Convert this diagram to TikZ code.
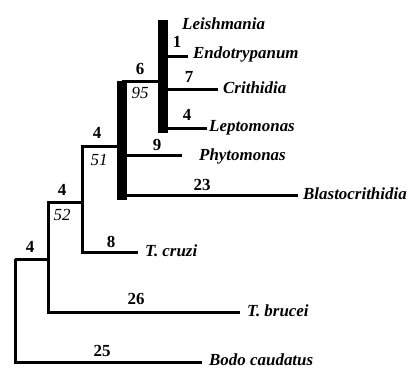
\documentclass[tikz,border=0pt]{standalone}
\usepackage{fontspec}
\setmainfont{Liberation Serif}
\tikzset{
  branch/.style={line width=3bp},
  clade/.style={line width=10bp},
  taxon/.style={anchor=base west,font=\fontsize{17}{19}\selectfont\bfseries\itshape,inner sep=0pt},
  steps/.style={anchor=base,font=\fontsize{17}{19}\selectfont\bfseries,inner sep=0pt},
  boot/.style={anchor=base,font=\fontsize{17}{19}\selectfont\itshape,inner sep=0pt}
}
\begin{document}
\begin{tikzpicture}[x=1bp,y=-1bp]
        \useasboundingbox (0,0) rectangle (415,369);
        % inner points of the tree
        \coordinate (root) at (15,259);
        \coordinate (nb) at (48,202);
        \coordinate (nc) at (82,146);
        \coordinate (nd) at (122,81);
        \coordinate (ne) at (163,20);
        % tips
        \coordinate (leish) at (163,20);
        \coordinate (endo) at (188,56);
        \coordinate (crith) at (218,89);
        \coordinate (lepto) at (207,128);
        \coordinate (phyto) at (182,155);
        \coordinate (blasto) at (298,195);
        \coordinate (cruzi) at (138,252);
        \coordinate (brucei) at (240,312);
        \coordinate (bodo) at (202,362);
        % thick clades
        \draw[clade] (ne) -- (163,133);
        \draw[clade] (nd) -- (122,200);
        % branches
        \draw[branch] (root) -- (nb |- root) -- (nb) -- (nc |- nb) -- (nc) -- (nd |- nc);
        \draw[branch] (nd) -- (158,81);
        \draw[branch] (168,56) -- (endo);
        \draw[branch] (168,89) -- (crith);
        \draw[branch] (168,128) -- (lepto);
        \draw[branch] (127,155) -- (phyto);
        \draw[branch] (127,195) -- (blasto);
        \draw[branch] (nc) -- (nc |- cruzi) -- (cruzi);
        \draw[branch] (nb |- nb) -- (nb |- brucei) -- (brucei);
        \draw[branch] (root) -- (root |- bodo) -- (bodo);
        % taxa
        \node[taxon] (tleish) at (182,29) {Leishmania};
        \node[taxon] (tendo) at (193,58) {Endotrypanum};
        \node[taxon] (tcrith) at (223,93) {Crithidia};
        \node[taxon] (tlepto) at (209,131) {Leptomonas};
        \node[taxon] (tphyto) at (199,160) {Phytomonas};
        \node[taxon] (tblasto) at (303,199) {Blastocrithidia};
        \node[taxon] (tcruzi) at (145,256) {T. cruzi};
        \node[taxon] (tbrucei) at (247,316) {T. brucei};
        \node[taxon] (tbodo) at (209,365) {Bodo caudatus};
        % step numbers and bootstrap values
        \node[steps] (s1) at (177,47) {1};
        \node[steps] (s7) at (189,82) {7};
        \node[steps] (s4a) at (187,120) {4};
        \node[steps] (s6) at (140,74) {6};
        \node[boot] (b95) at (140,98) {95};
        \node[steps] (s9) at (157,150) {9};
        \node[steps] (s23) at (202,190) {23};
        \node[steps] (s4b) at (97,138) {4};
        \node[boot] (b51) at (99,165) {51};
        \node[steps] (s8) at (111,247) {8};
        \node[steps] (s4c) at (62,195) {4};
        \node[boot] (b52) at (62,220) {52};
        \node[steps] (s26) at (136,304) {26};
        \node[steps] (s4d) at (30,252) {4};
        \node[steps] (s25) at (102,356) {25};
\end{tikzpicture}
\end{document}
